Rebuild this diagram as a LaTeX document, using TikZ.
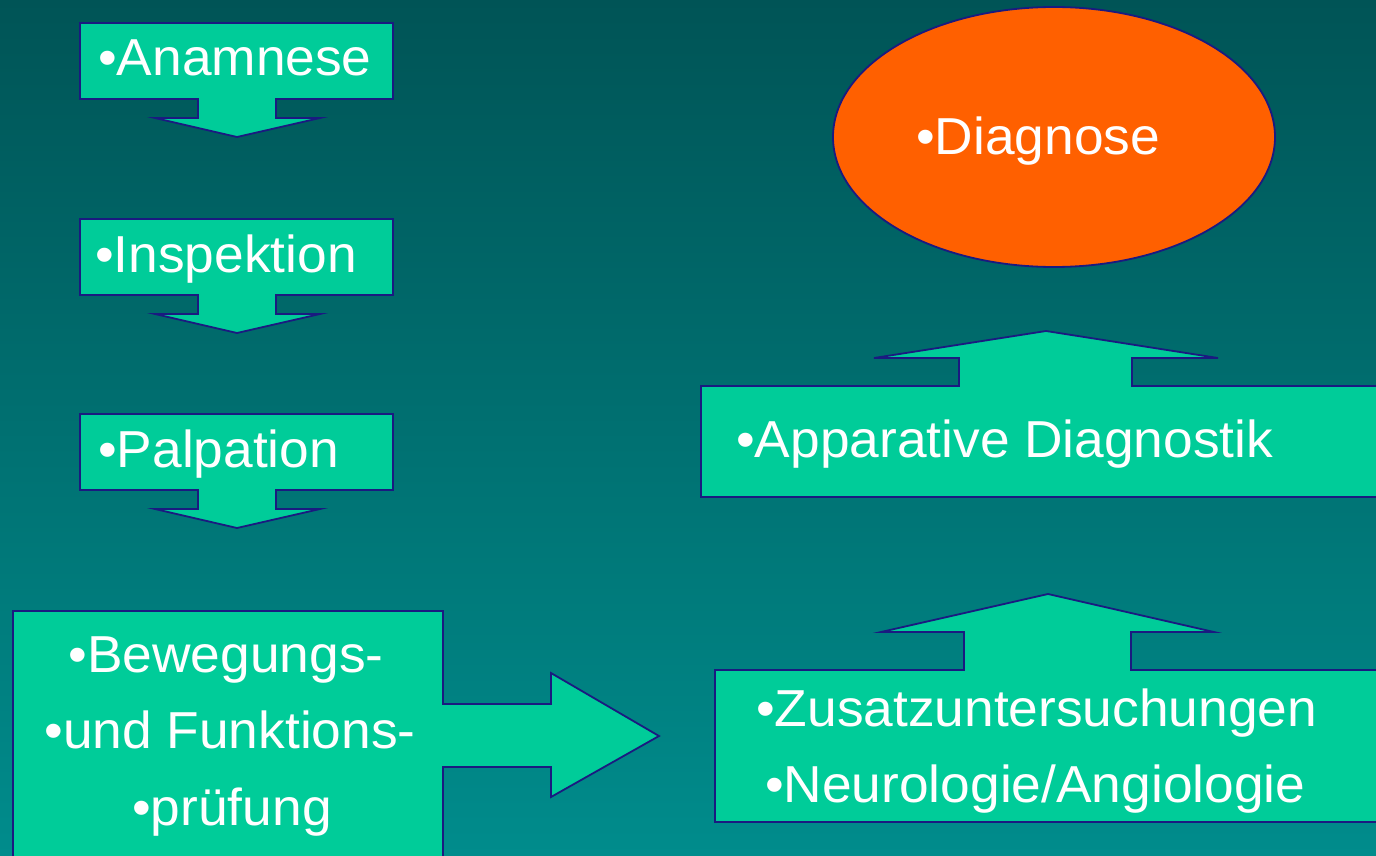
\documentclass[tikz,border=0pt]{standalone}
\usepackage{fontspec}
\setmainfont{Liberation Sans}[FakeStretch=1.025]
\definecolor{bgtop}{RGB}{0,84,86}
\definecolor{bgbot}{RGB}{0,140,140}
\definecolor{boxfill}{RGB}{0,204,153}
\definecolor{boxline}{RGB}{26,26,128}
\definecolor{diagfill}{RGB}{255,96,0}
\tikzset{
  shapebox/.style={fill=boxfill,draw=boxline,line width=1.8pt,line join=miter},
  lbl/.style={text=white,font=\fontsize{52}{60}\selectfont,inner sep=0pt,anchor=base west},
  clbl/.style={text=white,font=\fontsize{52}{60}\selectfont,inner sep=0pt,anchor=base},
}
\begin{document}
\begin{tikzpicture}[x=1pt,y=-1pt]
\useasboundingbox (0,0) rectangle (1376,856);
\clip (0,0) rectangle (1376,856);
\shade[top color=bgtop,bottom color=bgbot] (0,0) rectangle (1376,856);
% left column of down callouts
\foreach \off/\nm/\txt/\tx in {0/anam/Anamnese/98,196/insp/Inspektion/95,391/palp/Palpation/98}{
  \draw[shapebox] (80,23+\off) -- (393,23+\off) -- (393,99+\off) -- (276,99+\off) -- (276,118+\off)
    -- (320,118+\off) -- (237,137+\off) -- (155,118+\off) -- (198,118+\off) -- (198,99+\off)
    -- (80,99+\off) -- cycle;
  \node[lbl] (\nm) at (\tx,76+\off) {•\txt};
}
% Bewegungs box with right arrow
\draw[shapebox] (13,611) -- (443,611) -- (443,704) -- (551,704) -- (551,673) -- (659,736)
  -- (551,797) -- (551,767) -- (443,767) -- (443,870) -- (13,870) -- cycle;
\node[clbl] (bew1) at (226,672) {•Bewegungs-};
\node[clbl] (bew2) at (230,748) {•und Funktions-};
\node[clbl] (bew3) at (232,825) {•prüfung};
% Zusatzuntersuchungen with up arrow
\draw[shapebox] (715,670) -- (964,670) -- (964,632) -- (881,632) -- (1048,594) -- (1214,632)
  -- (1131,632) -- (1131,670) -- (1390,670) -- (1390,822) -- (715,822) -- cycle;
\node[lbl] (zus) at (756,726) {•Zusatzuntersuchungen};
\node[lbl] (neu) at (765,802) {•Neurologie/Angiologie};
% Apparative Diagnostik with up arrow
\draw[shapebox] (701,386) -- (959,386) -- (959,358) -- (874,358) -- (1046,331) -- (1218,358)
  -- (1132,358) -- (1132,386) -- (1390,386) -- (1390,497) -- (701,497) -- cycle;
\node[lbl] (app) at (736,457) {•Apparative Diagnostik};
% Diagnose ellipse
\draw[fill=diagfill,draw=boxline,line width=1.8pt] (1054,137) ellipse [x radius=221,y radius=130];
\node[lbl] (diag) at (916,155) {•Diagnose};
\end{tikzpicture}
\end{document}
